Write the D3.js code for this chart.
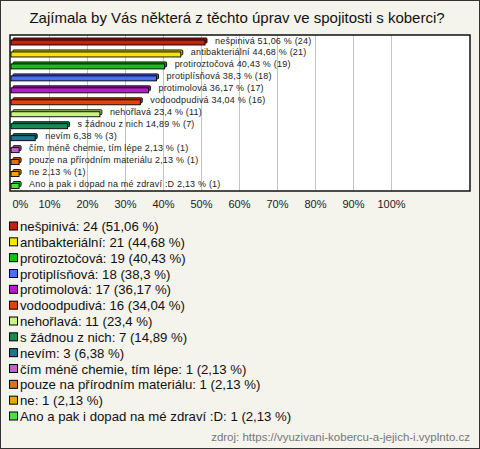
<!DOCTYPE html>
<html lang="cs">
<head>
<meta charset="utf-8">
<script src="https://d3js.org/d3.v7.min.js"></script>
<style>
    body { margin: 0; background: #fff; font-family: Arial, 'Liberation Sans', sans-serif; }
    .title { font-size: 15px; fill: #111; text-anchor: middle; }
    .bar-label { font-size: 9px; fill: #222; letter-spacing: 0.2px; }
    .tick text { font-size: 11px; fill: #222; }
    .legend-text { font-size: 13.2px; fill: #111; }
    .source { font-size: 11.5px; fill: #777; text-anchor: end; }
</style>
</head>
<body>
<script>
    // data
    var categories = ["nešpinivá", "antibakteriální", "protiroztočová", "protiplísňová", "protimolová",
        "vodoodpudivá", "nehořlavá", "s žádnou z nich", "nevím", "čím méně chemie, tím lépe",
        "pouze na přírodním materiálu", "ne", "Ano a pak i dopad na mé zdraví :D"];
    var counts = [24, 21, 19, 18, 17, 16, 11, 7, 3, 1, 1, 1, 1];
    var percents = [51.06, 44.68, 40.43, 38.3, 36.17, 34.04, 23.4, 14.89, 6.38, 2.13, 2.13, 2.13, 2.13];
    var colors = ["#c0240f", "#f8e400", "#1cbc1c", "#4a6ff0", "#b41ccc", "#e2420c", "#c8f47c",
        "#148c54", "#1c7890", "#c462c8", "#e8700c", "#e2aa08", "#44e244"];
    var tickValues = [0, 10, 20, 30, 40, 50, 60, 70, 80, 90, 100];

    var W = 480, H = 449;
    var svg = d3.select("body").append("svg")
        .attr("width", W)
        .attr("height", H);

    // background + outer frame
    svg.append("rect")
        .attr("x", 0.5).attr("y", 0.5)
        .attr("width", W - 1).attr("height", H - 1)
        .attr("fill", "#f4f3ec")
        .attr("stroke", "#333");

    svg.append("text")
        .attr("class", "title")
        .attr("x", 237)
        .attr("y", 23)
        .text("Zajímala by Vás některá z těchto úprav ve spojitosti s koberci?");

    // plot area
    var plot = {left: 10, top: 35, right: 470, bottom: 191};
    svg.append("rect")
        .attr("x", plot.left).attr("y", plot.top)
        .attr("width", plot.right - plot.left)
        .attr("height", plot.bottom - plot.top)
        .attr("fill", "#fff");

    var x = d3.scaleLinear().domain([0, 100]).range([11, 391]);
    var y = d3.scalePoint().domain(categories).range([41.5, 185]);

    // grid lines
    svg.append("g")
        .selectAll("line")
        .data(tickValues.slice(1))
        .enter().append("line")
        .attr("x1", function(d) { return x(d) + 0.5; })
        .attr("x2", function(d) { return x(d) + 0.5; })
        .attr("y1", plot.top)
        .attr("y2", plot.bottom)
        .attr("stroke", "#c4c4c4");

    svg.append("rect")
        .attr("x", plot.left).attr("y", plot.top)
        .attr("width", plot.right - plot.left)
        .attr("height", plot.bottom - plot.top)
        .attr("fill", "none")
        .attr("stroke", "#000")
        .attr("stroke-width", 1.4);

    // x axis labels
    var xAxis = svg.append("g")
        .attr("transform", "translate(0," + 197 + ")")
        .call(d3.axisBottom(x).tickValues(tickValues).tickSize(0)
            .tickFormat(function(d) { return d + "%"; }));
    xAxis.select(".domain").remove();
    xAxis.selectAll(".tick text")
        .attr("font-family", null).attr("font-size", null)
        .filter(function(d) { return d === 0; })
        .attr("text-anchor", "start")
        .attr("dx", 1);

    // bars: back face then front face for the 3d look
    var rows = categories.map(function(c, i) {
        return {name: c, count: counts[i], pct: percents[i], color: colors[i]};
    });
    var bars = svg.append("g").selectAll("g")
        .data(rows)
        .enter().append("g");

    bars.append("rect")
        .attr("x", x(0) + 2)
        .attr("y", function(d) { return y(d.name) - 3.5; })
        .attr("width", function(d) { return x(d.pct) - x(0); })
        .attr("height", 5)
        .attr("rx", 1)
        .attr("fill", function(d) { return d3.color(d.color).darker(0.6); })
        .attr("stroke", "#000")
        .attr("stroke-width", 0.9);

    bars.append("rect")
        .attr("x", x(0))
        .attr("y", function(d) { return y(d.name) - 1.5; })
        .attr("width", function(d) { return x(d.pct) - x(0); })
        .attr("height", 5)
        .attr("fill", function(d) { return d.color; })
        .attr("stroke", "#000")
        .attr("stroke-width", 0.9);

    var fmt = function(v) { return String(v).replace(".", ","); };

    bars.append("text")
        .attr("class", "bar-label")
        .attr("x", function(d) { return x(d.pct) + 10; })
        .attr("y", function(d) { return y(d.name) + 2; })
        .text(function(d) { return d.name + " " + fmt(d.pct) + " % (" + d.count + ")"; });

    // legend
    var ly = d3.scalePoint().domain(categories).range([226.5, 416.5]);
    var legend = svg.append("g").selectAll("g")
        .data(rows)
        .enter().append("g")
        .attr("transform", function(d) { return "translate(0," + ly(d.name) + ")"; });

    legend.append("rect")
        .attr("x", 9.5).attr("y", -4.5)
        .attr("width", 8).attr("height", 8)
        .attr("fill", function(d) { return d.color; })
        .attr("stroke", "#000");

    legend.append("text")
        .attr("class", "legend-text")
        .attr("x", 20)
        .attr("y", 4.5)
        .text(function(d) { return d.name + ": " + d.count + " (" + fmt(d.pct) + " %)"; });

    svg.append("text")
        .attr("class", "source")
        .attr("x", 470)
        .attr("y", 441)
        .text("zdroj: https://vyuzivani-kobercu-a-jejich-i.vyplnto.cz");
</script>
</body>
</html>
